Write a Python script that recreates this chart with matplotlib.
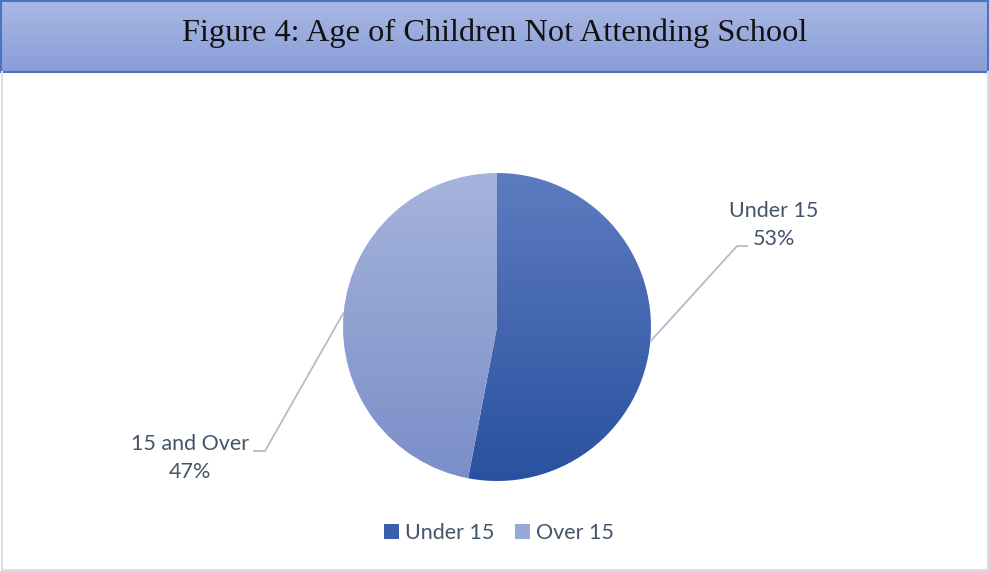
import numpy as np
import matplotlib
matplotlib.use("Agg")
import matplotlib.pyplot as plt
from matplotlib.colors import LinearSegmentedColormap
from matplotlib.patches import Patch, Rectangle

# share of children not attending school, by age group
labels = ["Under 15", "15 and Over"]
legend_labels = ["Under 15", "Over 15"]
shares = [53, 47]

TITLE = "Figure 4: Age of Children Not Attending School"
TEXT_COLOR = "#44546A"
W, H = 989, 571

# (top colour, bottom colour) gradients per slice
slice_grads = [("#5d7bc0", "#2a519f"), ("#a5b4dc", "#7a8ec8")]
legend_colors = ["#3a5fae", "#97a9d8"]

fig = plt.figure(figsize=(W / 100, H / 100), dpi=100)
ax = fig.add_axes([0, 0, 1, 1])

# pixel-like coordinates, y measured upwards
cx, cy, r = 497, H - 327, 154

wedges, _ = ax.pie(shares, startangle=90, counterclock=False, center=(cx, cy),
                   radius=r, frame=True, wedgeprops=dict(linewidth=0))

grad = np.linspace(0, 1, 256).reshape(-1, 1)
for w, (top, bot) in zip(wedges, slice_grads):
    w.set_facecolor("none")
    cmap = LinearSegmentedColormap.from_list("g", [top, bot])
    im = ax.imshow(grad, cmap=cmap, aspect="auto", interpolation="bicubic",
                   extent=[cx - r, cx + r, cy - r, cy + r], origin="upper", zorder=1)
    im.set_clip_path(w)

# leader lines from the middle of each slice's arc
total = sum(shares)
start = 90.0
label_specs = [
    # (elbow x, elbow y, end x, text x, text y, ha)
    (737, H - 246, 748, 774, H - 225, "center"),
    (265, H - 451, 253, 190, H - 458, "center"),
]
for share, lab, spec in zip(shares, labels, label_specs):
    sweep = 360.0 * share / total
    mid = np.deg2rad(start - sweep / 2)
    start -= sweep
    px, py = cx + r * np.cos(mid), cy + r * np.sin(mid)
    ex, ey, hx, tx, ty, ha = spec
    ax.plot([px, ex, hx], [py, ey, ey], color="#b4bccb", lw=1.3, zorder=2,
            solid_capstyle="butt")
    ax.text(tx, ty, f"{lab}\n{share}%", ha=ha, va="center", fontsize=15.5,
            family="Lato", color=TEXT_COLOR, linespacing=1.55, zorder=3)

# title banner
banner = LinearSegmentedColormap.from_list("b", ["#aab8e3", "#889ed8"])
ax.imshow(grad, cmap=banner, aspect="auto", extent=[1, W - 1, H - 72, H],
          origin="upper", zorder=1)
ax.add_patch(Rectangle((1, H - 71.5), W - 2, 71, fill=False, ec="#4a72c6",
                       lw=1.5, zorder=2))
ax.text(W / 2, H - 33, TITLE, ha="center", va="center", fontsize=23.3,
        family="Liberation Serif", color="#111111", zorder=3)

# light frame around the chart area
ax.plot([1.5, 1.5, W - 1.5, W - 1.5], [H - 72, 1.5, 1.5, H - 72],
        color="#d9dde6", lw=1.5, zorder=2)

handles = [Patch(facecolor=c, edgecolor="none") for c in legend_colors]
leg = ax.legend(handles, legend_labels, loc="center", ncol=2, frameon=False,
                bbox_to_anchor=(499 / W, 1 - 533 / H), handlelength=0.68,
                handleheight=0.68, handletextpad=0.3, columnspacing=0.95,
                prop={"family": "Lato", "size": 15.5})
for t in leg.get_texts():
    t.set_color(TEXT_COLOR)

ax.set_xlim(0, W)
ax.set_ylim(0, H)
ax.set_axis_off()

fig.savefig("out.png", dpi=100)
